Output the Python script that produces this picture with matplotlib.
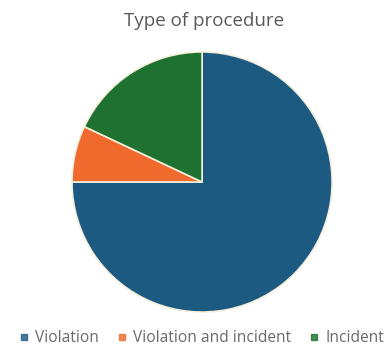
import matplotlib.pyplot as plt
from matplotlib.lines import Line2D

# procedure types and their shares (%)
labels = ["Violation", "Violation and incident", "Incident"]
shares = [75, 7, 18]
colors = ["#1d5a82", "#ef6a2c", "#1e7131"]

plt.rcParams['font.family'] = ['Open Sans', 'DejaVu Sans']

fig = plt.figure(figsize=(3.9, 3.51), dpi=100)
ax = fig.add_axes([0.1846, 0.111, 0.667, 0.741])

ax.pie(shares, colors=colors, startangle=90, counterclock=False,
       wedgeprops=dict(edgecolor="#f4f0dc", linewidth=1.2))
ax.set_xlim(-1.0, 1.0)
ax.set_ylim(-1.0, 1.0)
ax.set_aspect("equal")

fig.text(0.523, 0.94, "Type of procedure", ha="center", va="center",
         fontsize=13.5, color="#595959")

handles = [Line2D([], [], marker="s", linestyle="", markersize=4.5,
                  color=c, alpha=0.8) for c in colors]
fig.legend(handles, labels, loc="center left", bbox_to_anchor=(0.045, 0.037),
           ncol=3, frameon=False, fontsize=11.2, labelcolor="#6a6a6a",
           handletextpad=0.3, columnspacing=1.1, handlelength=0.8,
           borderaxespad=0, borderpad=0)

fig.savefig("out.png", dpi=100)
